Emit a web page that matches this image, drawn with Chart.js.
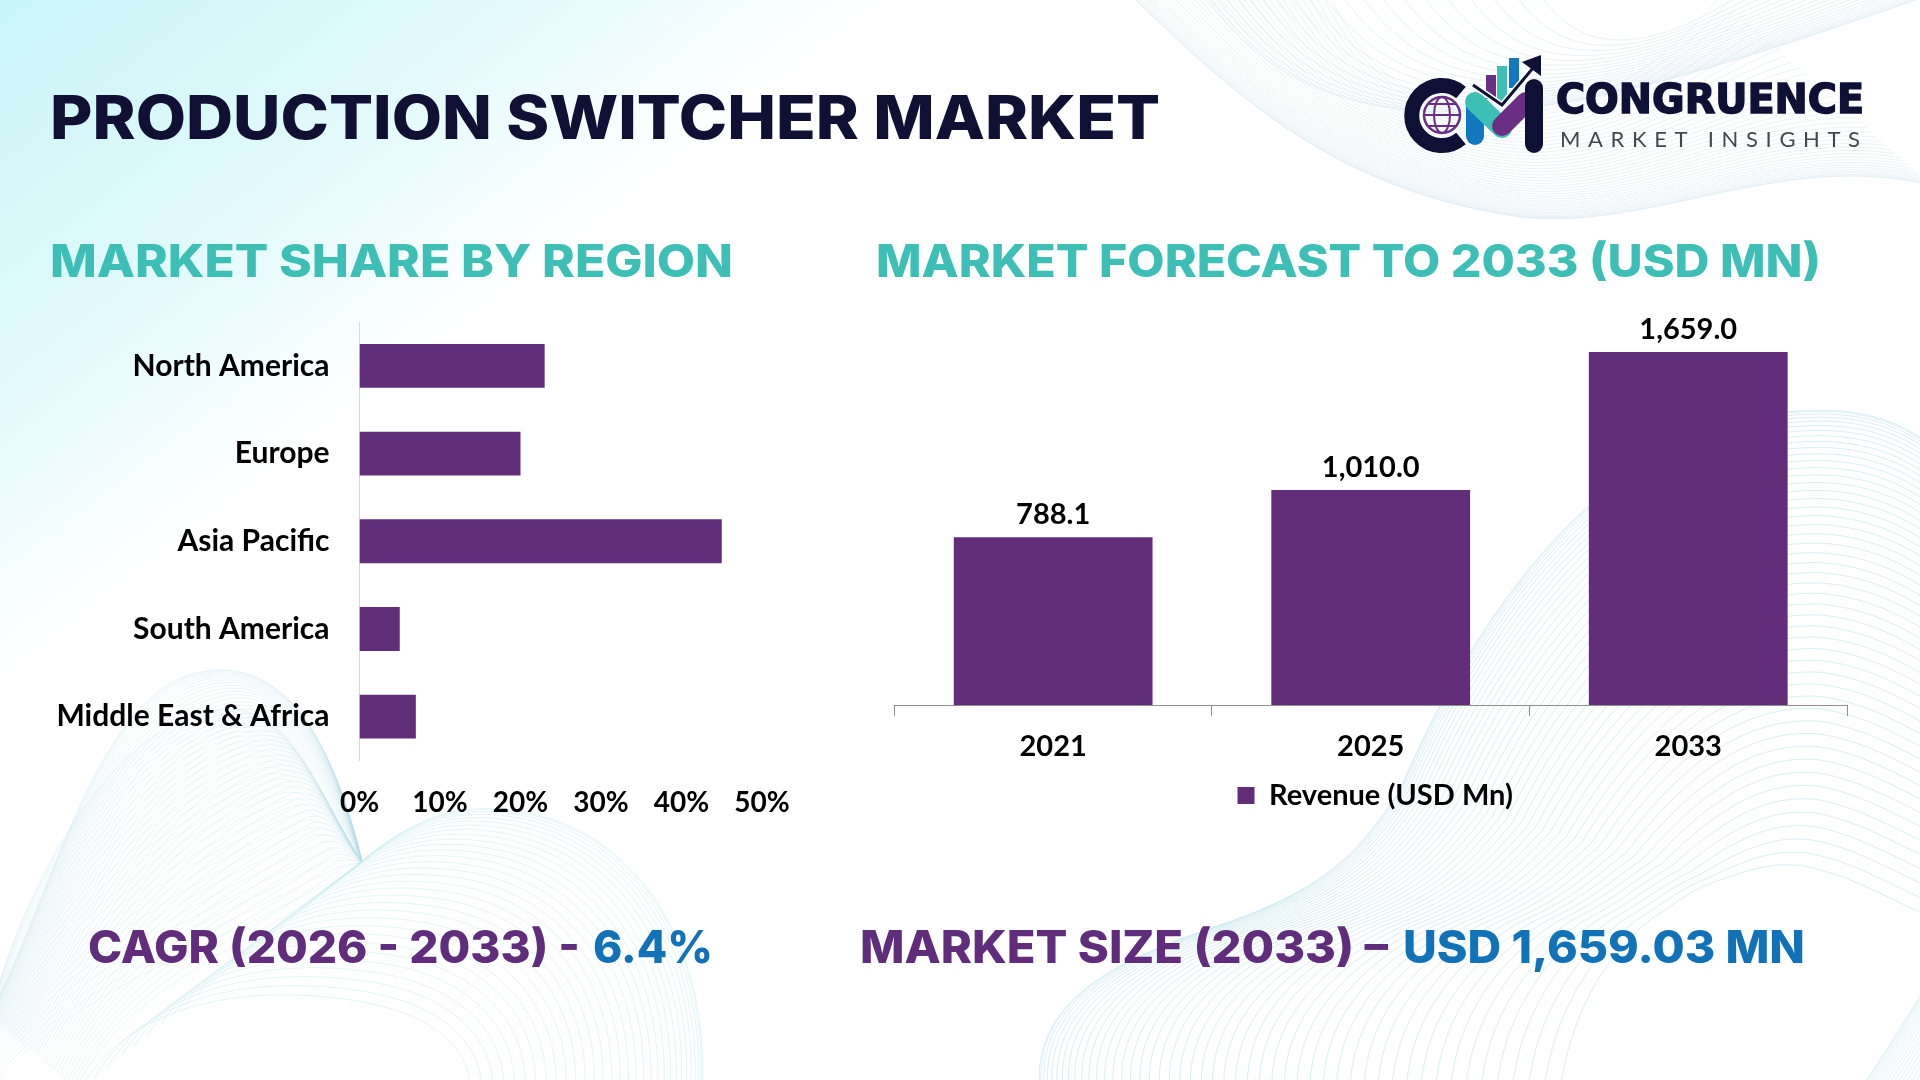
<!DOCTYPE html>
<html>
<head>
<meta charset="utf-8">
<title>Production Switcher Market</title>
<script src="https://cdn.jsdelivr.net/npm/chart.js@4/dist/chart.umd.min.js"></script>
<style>
    html, body { margin: 0; padding: 0; background: #fff; }
    #page { position: relative; width: 1920px; height: 1080px; overflow: hidden; }
    svg, canvas { position: absolute; }
    #bg, #fg { left: 0; top: 0; }
    #shareChart { left: 0; top: 274px; }
    #forecastChart { left: 860px; top: 300px; }
    text { font-family: Inter, sans-serif; font-weight: 800; }
</style>
</head>
<body>
<div id="page">
    <svg id="bg" width="1920" height="1080" viewBox="0 0 1920 1080" xmlns="http://www.w3.org/2000/svg">
        <defs>
            <linearGradient id="tint" gradientUnits="userSpaceOnUse" x1="0" y1="0" x2="328" y2="427">
                <stop offset="0" stop-color="#c9f5f7"/>
                <stop offset="0.6" stop-color="#e3fafc"/>
                <stop offset="1" stop-color="#ffffff"/>
            </linearGradient>
        </defs>
        <path d="M0 0 L885 0 C860 140 800 200 640 340 C480 480 240 600 0 680 Z" fill="url(#tint)"/>
        <g id="meshes" fill="none"></g>
    </svg>

    <canvas id="shareChart" width="840" height="556"></canvas>
    <canvas id="forecastChart" width="1000" height="520"></canvas>

    <svg id="fg" width="1920" height="1080" viewBox="0 0 1920 1080" xmlns="http://www.w3.org/2000/svg">
        <text x="50" y="139" font-size="60" fill="#0f1033" textLength="1110" lengthAdjust="spacingAndGlyphs">PRODUCTION SWITCHER MARKET</text>
        <text x="50" y="277" font-size="45" fill="#3dbfb5" textLength="683" lengthAdjust="spacingAndGlyphs">MARKET SHARE BY REGION</text>
        <text x="876" y="277" font-size="45" fill="#3dbfb5" textLength="945" lengthAdjust="spacingAndGlyphs">MARKET FORECAST TO 2033 (USD MN)</text>
        <text x="88" y="963" font-size="45" fill="#5f2d7b" textLength="492" lengthAdjust="spacingAndGlyphs">CAGR (2026 - 2033) -</text>
        <text x="593" y="963" font-size="45" fill="#1172b8" textLength="120" lengthAdjust="spacingAndGlyphs">6.4%</text>
        <text x="860" y="963" font-size="45" fill="#5f2d7b" textLength="528" lengthAdjust="spacingAndGlyphs">MARKET SIZE (2033) –</text>
        <text x="1403" y="963" font-size="45" fill="#1172b8" textLength="402" lengthAdjust="spacingAndGlyphs">USD 1,659.03 MN</text>

        <!-- logo -->
        <g fill="none" stroke-linecap="round">
            <rect x="1486" y="75" width="10" height="24" fill="#6a2f85"/>
            <rect x="1497" y="66" width="10" height="36" fill="#3dbfb5"/>
            <rect x="1509" y="58" width="10" height="30" fill="#1178c0"/>
            <path d="M1461 92.5 A30 30 0 1 0 1461 138.5" stroke="#0e1036" stroke-width="15" stroke-linecap="butt"/>
            <circle cx="1442" cy="115" r="18" stroke="#6a2f85" stroke-width="2.5"/>
            <ellipse cx="1442" cy="115" rx="8" ry="18" stroke="#6a2f85" stroke-width="2"/>
            <path d="M1424 115 H1460 M1428 104 H1456 M1428 126 H1456" stroke="#6a2f85" stroke-width="2"/>
            <path d="M1475 102 V136" stroke="#1178c0" stroke-width="18"/>
            <path d="M1475 102 L1502 128" stroke="#3dbfb5" stroke-width="20"/>
            <path d="M1502 126 L1526 102" stroke="#6a2f85" stroke-width="20"/>
            <path d="M1534 88 V144" stroke="#0e1036" stroke-width="18"/>
            <path d="M1473 85 L1502 105 L1533 68" stroke="#fff" stroke-width="6" stroke-linecap="butt"/>
            <path d="M1473 85 L1502 105 L1533 68" stroke="#0e1036" stroke-width="3" stroke-linecap="butt"/>
            <path d="M1522 62 L1541 55 L1541 76 Z" fill="#0e1036"/>
        </g>
        <text x="1556" y="113" font-size="40" fill="#0e1036" style="font-family:'DejaVu Sans';font-weight:700" stroke="#0e1036" stroke-width="1.5" textLength="308" lengthAdjust="spacingAndGlyphs">CONGRUENCE</text>
        <text x="1560" y="147" font-size="22" fill="#444650" style="font-family:Lato;font-weight:400" textLength="300" lengthAdjust="spacing">MARKET INSIGHTS</text>
    </svg>
</div>

<script>
// data
const regions = ['North America', 'Europe', 'Asia Pacific', 'South America', 'Middle East & Africa'];
const regionShare = [23, 20, 45, 5, 7];
const shareTicks = [0, 10, 20, 30, 40, 50];

const years = ['2021', '2025', '2033'];
const revenue = [788.1, 1010.0, 1659.0];
const revenueLabel = 'Revenue (USD Mn)';

const PURPLE = '#622e7a';
const labelFont = (size) => ({ family: 'Lato', weight: '700', size: size });

// Background line work, each family is drawn between two outlines.
// Lines bunch up towards the first outline.
function addFamily(from, to, count, color, opacity) {
    const group = document.getElementById('meshes');
    for (let i = 0; i <= count; i++) {
        const t = Math.pow(i / count, 1.5);
        const pts = from.map((p, k) => [p[0] + (to[k][0] - p[0]) * t, p[1] + (to[k][1] - p[1]) * t]);
        let d = 'M' + pts[0].join(' ');
        for (let k = 1; k < pts.length; k += 3) {
            d += ' C' + pts[k].join(' ') + ' ' + pts[k + 1].join(' ') + ' ' + pts[k + 2].join(' ');
        }
        const path = document.createElementNS('http://www.w3.org/2000/svg', 'path');
        path.setAttribute('d', d);
        path.setAttribute('stroke', color);
        path.setAttribute('stroke-opacity', opacity);
        group.appendChild(path);
    }
}

// bottom left, mesh with the pinch
addFamily(
    [[-10, 1015], [60, 880], [100, 675], [215, 670], [300, 665], [340, 770], [362, 862]],
    [[75, 1090], [130, 980], [250, 950], [345, 875], [350, 872], [356, 868], [362, 862]],
    45, '#b4dce8', 0.26);
addFamily(
    [[-10, 1015], [20, 900], [100, 730], [215, 710], [290, 695], [320, 800], [362, 862]],
    [[-10, 1090], [60, 1000], [180, 960], [345, 875], [350, 872], [356, 868], [362, 862]],
    30, '#b4dce8', 0.2);
// bottom left, dome to the right of the pinch
addFamily(
    [[362, 862], [420, 810], [470, 805], [510, 810], [640, 825], [710, 950], [702, 1090]],
    [[80, 1090], [130, 1000], [250, 985], [350, 1000], [420, 1010], [470, 1040], [470, 1090]],
    30, '#c4e8ec', 0.45);

// bottom right, the large wave
addFamily(
    [[1040, 1090], [1030, 1000], [1120, 960], [1205, 930], [1330, 890], [1360, 850], [1400, 790], [1480, 600], [1620, 410], [1820, 410], [1880, 410], [1920, 430], [1960, 470]],
    [[1560, 1090], [1570, 1020], [1600, 960], [1650, 920], [1680, 900], [1690, 890], [1720, 880], [1760, 865], [1790, 860], [1820, 870], [1860, 880], [1900, 905], [1960, 930]],
    48, '#bfe2ec', 0.6);
addFamily(
    [[1960, 930], [1930, 980], [1900, 1030], [1860, 1090], [1860, 1090], [1860, 1090], [1860, 1090]],
    [[1960, 1000], [1950, 1030], [1930, 1060], [1910, 1090], [1910, 1090], [1910, 1090], [1910, 1090]],
    16, '#c9eaf0', 0.5);

// top right band
addFamily(
    [[1130, -5], [1230, 90], [1330, 190], [1520, 217], [1650, 232], [1780, 150], [1930, 185]],
    [[1330, -5], [1360, 60], [1400, 112], [1520, 112], [1600, 112], [1680, 50], [1720, -5]],
    40, '#d2e4ee', 0.45);
addFamily(
    [[1205, -5], [1250, 60], [1320, 112], [1450, 112], [1560, 112], [1660, 90], [1930, -5]],
    [[1540, -5], [1560, 20], [1580, 40], [1620, 40], [1660, 40], [1700, 20], [1740, -5]],
    20, '#d2e4ee', 0.5);

// value labels on top of the revenue bars
const valueLabels = {
    id: 'valueLabels',
    afterDatasetsDraw(chart) {
        const ctx = chart.ctx;
        const meta = chart.getDatasetMeta(0);
        ctx.save();
        ctx.font = '700 29px Lato';
        ctx.fillStyle = '#000';
        ctx.textAlign = 'center';
        ctx.textBaseline = 'alphabetic';
        meta.data.forEach((bar, i) => {
            const text = revenue[i].toLocaleString('en-US', { minimumFractionDigits: 1 });
            ctx.fillText(text, bar.x, bar.y - 13);
        });
        ctx.restore();
    },
};

// nudges the legend, it sits a little right of the plot centre
const legendShift = {
    id: 'legendShift',
    afterLayout(chart) {
        chart.legend.left += 4.5;
        chart.legend.right += 4.5;
    },
};

new Chart(document.getElementById('shareChart'), {
    type: 'bar',
    data: {
        labels: regions,
        datasets: [{
            data: regionShare,
            backgroundColor: PURPLE,
            barPercentage: 0.5,
            categoryPercentage: 1,
        }],
    },
    options: {
        indexAxis: 'y',
        responsive: false,
        animation: false,
        devicePixelRatio: 1,
        layout: { autoPadding: false, padding: { top: 12.5, right: 78 } },
        plugins: { legend: { display: false }, tooltip: { enabled: false } },
        scales: {
            x: {
                min: 0,
                max: 50,
                afterBuildTicks: (scale) => { scale.ticks = shareTicks.map((v) => ({ value: v })); },
                afterFit: (scale) => { scale.height = 69.5; },
                grid: { display: false },
                border: { display: false },
                ticks: {
                    color: '#000',
                    font: labelFont(28),
                    padding: 18,
                    maxRotation: 0,
                    callback: (value) => value + '%',
                },
            },
            y: {
                afterFit: (scale) => { scale.width = 359.5; },
                grid: { display: false, drawTicks: false },
                border: { color: '#d9d9d9', width: 1 },
                ticks: { color: '#000', font: labelFont(30), padding: 30 },
            },
        },
    },
});

new Chart(document.getElementById('forecastChart'), {
    type: 'bar',
    data: {
        labels: years,
        datasets: [{
            label: revenueLabel,
            data: revenue,
            backgroundColor: PURPLE,
            barPercentage: 0.626,
            categoryPercentage: 1,
        }],
    },
    options: {
        responsive: false,
        animation: false,
        devicePixelRatio: 1,
        layout: { padding: { top: 22, left: 34.4, right: 13 } },
        plugins: {
            legend: {
                position: 'bottom',
                labels: { color: '#000', font: labelFont(29), boxWidth: 17, boxHeight: 17, padding: 10 },
            },
            tooltip: { enabled: false },
        },
        scales: {
            x: {
                afterFit: (scale) => { scale.height = 66; },
                offset: true,
                grid: { display: true, drawOnChartArea: false, color: '#8f8f8f', tickLength: 11, offset: true },
                border: { color: '#8f8f8f', width: 1 },
                ticks: { color: '#000', font: labelFont(29), padding: 13, maxRotation: 0 },
            },
            y: { display: false, min: 0, max: 1800 },
        },
    },
    plugins: [valueLabels, legendShift],
});
</script>
</body>
</html>
